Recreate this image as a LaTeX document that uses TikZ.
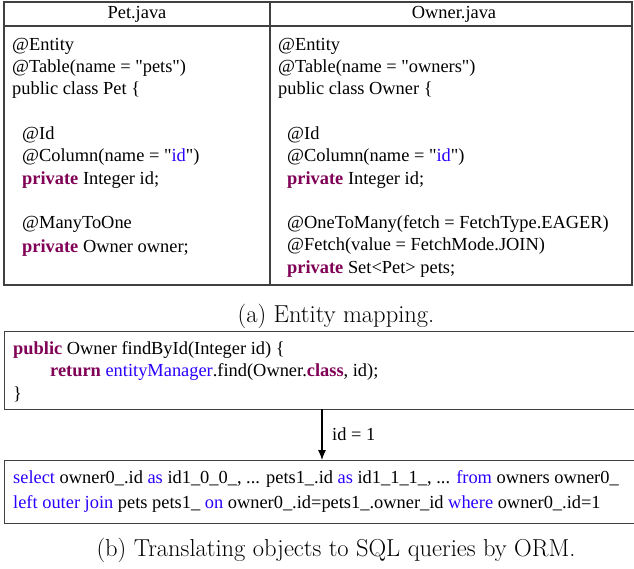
\documentclass[tikz,border=0pt]{standalone}
\usepackage{fontspec}
\newfontfamily\codefont{Liberation Serif}
\usetikzlibrary{arrows.meta}
\definecolor{kwpurple}{RGB}{127,0,85}
\definecolor{strblue}{RGB}{42,0,255}
\newcommand{\kw}[1]{\textcolor{kwpurple}{\bfseries #1}}
\newcommand{\bl}[1]{\textcolor{strblue}{#1}}

\begin{document}
\begin{tikzpicture}[x=1pt, y=1pt,
		code/.style={anchor=base west, inner sep=0pt, font=\codefont\fontsize{18.4}{22}\selectfont},
		frame/.style={draw=black!75, line width=1.1pt},
		caption/.style={anchor=base, inner sep=0pt, font=\fontsize{24.5}{29}\selectfont}]
		\useasboundingbox (0, 0) rectangle (634, -569);
		
		% entity table
		\draw[frame] (4, -2) rectangle (632, -285);
		\draw[frame] (4, -26) -- (632, -26);
		\draw[frame] (270, -2) -- (270, -285);
		
		\node[code, anchor=center] (pethead) at (137, -14) {Pet.java};
		\node[code, anchor=center] (ownerhead) at (454, -14) {Owner.java};
		
		\node[code] (p1) at (12, -51) {@Entity};
		\node[code] (p2) at (12, -73) {@Table(name = "pets")};
		\node[code] (p3) at (12, -95) {public class Pet \{};
		\node[code] (p4) at (22, -140) {@Id};
		\node[code] (p5) at (22, -162) {@Column(name = "\bl{id}")};
		\node[code] (p6) at (22, -185) {\kw{private} Integer id;};
		\node[code] (p7) at (22, -229) {@ManyToOne};
		\node[code] (p8) at (22, -252) {\kw{private} Owner owner;};
		
		\node[code] (o1) at (278, -51) {@Entity};
		\node[code] (o2) at (278, -73) {@Table(name = "owners")};
		\node[code] (o3) at (278, -95) {public class Owner \{};
		\node[code] (o4) at (287, -140) {@Id};
		\node[code] (o5) at (287, -162) {@Column(name = "\bl{id}")};
		\node[code] (o6) at (287, -185) {\kw{private} Integer id;};
		\node[code] (o7) at (287, -229) {@OneToMany(fetch = FetchType.EAGER)};
		\node[code] (o8) at (287, -251) {@Fetch(value = FetchMode.JOIN)};
		\node[code] (o9) at (287, -273) {\kw{private} Set\textless Pet\textgreater{} pets;};
		
		\node[caption] (capa) at (336, -322) {(a) Entity mapping.};
		
		% query boxes
		\node[frame, anchor=north west, minimum width=634pt, minimum height=78pt] (findbox) at (4, -331) {};
		\node[frame, anchor=north west, minimum width=634pt, minimum height=63pt] (sqlbox) at (4, -460) {};
		
		\node[code] (f1) at (13, -354) {\kw{public} Owner findById(Integer id) \{};
		\node[code] (f2) at (50, -376) {\kw{return} \bl{entityManager}.find(Owner.\kw{class}, id);};
		\node[code] (f3) at (13, -399) {\}};
		
		\node[code] (s1) at (13, -483) {\bl{select} owner0\_.id \bl{as} id1\_0\_0\_, ... pets1\_.id \bl{as} id1\_1\_1\_, ... \bl{from} owners owner0\_};
		\node[code] (s2) at (13, -508) {\bl{left outer join} pets pets1\_ \bl{on} owner0\_.id=pets1\_.owner\_id \bl{where} owner0\_.id=1};
		
		\coordinate (argtop) at (322, -409);
		\coordinate (argbot) at (322, -460);
		\draw[line width=1.1pt, -{Latex[length=10pt, width=8pt]}] (argtop) -- (argbot);
		\node[code] (arg) at (332, -440) {id = 1};
		
		\node[caption] (capb) at (336, -556) {(b) Translating objects to SQL queries by ORM.};
	\end{tikzpicture}
\end{document}
